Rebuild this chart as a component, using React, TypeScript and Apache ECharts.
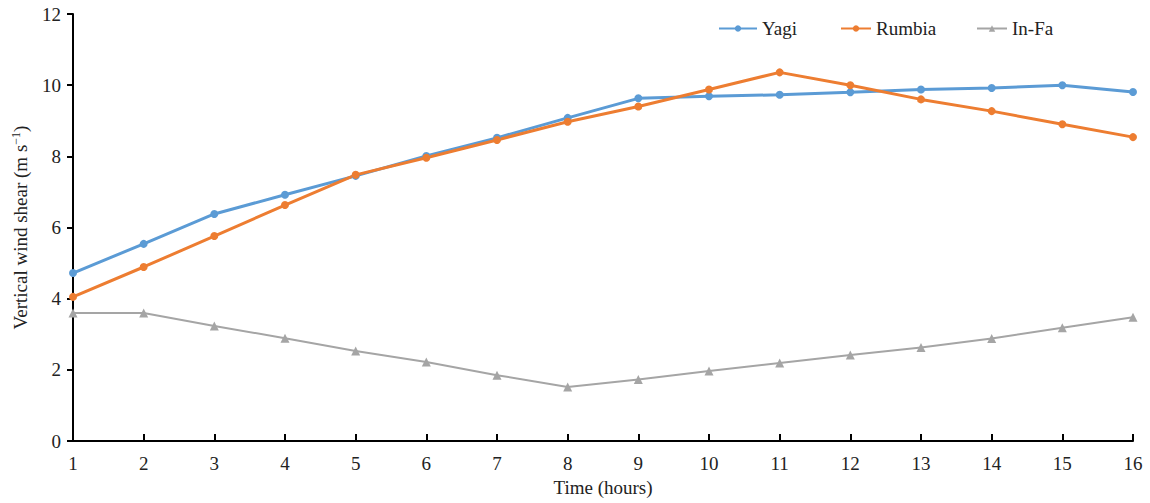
import React, { useEffect, useRef } from "react";
import * as echarts from "echarts";

const hours = [1, 2, 3, 4, 5, 6, 7, 8, 9, 10, 11, 12, 13, 14, 15, 16];
const yagi = [4.72, 5.54, 6.38, 6.92, 7.45, 8.01, 8.52, 9.08, 9.63, 9.69, 9.73, 9.8, 9.88, 9.92, 10.0, 9.81];
const rumbia = [4.05, 4.89, 5.76, 6.63, 7.48, 7.96, 8.46, 8.97, 9.4, 9.88, 10.36, 10.0, 9.6, 9.27, 8.9, 8.54];
const infa = [3.6, 3.6, 3.23, 2.89, 2.53, 2.22, 1.85, 1.52, 1.73, 1.97, 2.19, 2.42, 2.63, 2.88, 3.18, 3.48];

const FONT = "'Liberation Serif', 'Times New Roman', serif";
const TXT = "#222";

export default function App() {
  const ref = useRef<HTMLDivElement>(null);
  useEffect(() => {
    if (!ref.current) return;
    const chart = echarts.init(ref.current, undefined, { renderer: "svg" });
    const pairs = (arr: number[]) => hours.map((h, i) => [h, arr[i]]);
    const legendText = { fontFamily: FONT, fontSize: 19, color: TXT };
    chart.setOption({
      animation: false,
      textStyle: { fontFamily: FONT },
      grid: { left: 73, right: 17, top: 14, bottom: 62 },
      legend: [
        { left: 713, top: 14, itemWidth: 38, itemHeight: 8, textStyle: legendText, data: ["Yagi"] },
        { left: 835, top: 14, itemWidth: 30, itemHeight: 8, textStyle: legendText, data: ["Rumbia"] },
        { left: 971, top: 14, itemWidth: 30, itemHeight: 8, textStyle: legendText, data: ["In-Fa"] },
      ],
      xAxis: {
        type: "value",
        min: 1,
        max: 16,
        interval: 1,
        name: "Time (hours)",
        nameLocation: "middle",
        nameGap: 37,
        nameTextStyle: { fontFamily: FONT, fontSize: 19, color: TXT },
        axisLine: { lineStyle: { color: "#000", width: 2 } },
        axisTick: { inside: true, length: 7, lineStyle: { color: "#000", width: 2 } },
        axisLabel: { fontFamily: FONT, fontSize: 19, color: TXT, margin: 13 },
        splitLine: { show: false },
      },
      yAxis: {
        type: "value",
        min: 0,
        max: 12,
        interval: 2,
        name: "Vertical wind shear (m s{sup|−1})",
        nameLocation: "middle",
        nameGap: 42,
        nameTextStyle: {
          fontFamily: FONT,
          fontSize: 19,
          color: TXT,
          rich: { sup: { fontFamily: FONT, fontSize: 12, color: TXT, verticalAlign: "top", padding: [0, 0, 9, 0] } },
        },
        axisLine: { show: true, lineStyle: { color: "#000", width: 2 } },
        axisTick: { show: true, length: 6, lineStyle: { color: "#000", width: 2 } },
        axisLabel: { fontFamily: FONT, fontSize: 19, color: TXT, margin: 12 },
        splitLine: { show: false },
      },
      series: [
        {
          name: "Yagi",
          type: "line",
          data: pairs(yagi),
          symbol: "circle",
          symbolSize: 8,
          lineStyle: { color: "#5B9BD5", width: 3 },
          itemStyle: { color: "#5B9BD5" },
        },
        {
          name: "Rumbia",
          type: "line",
          data: pairs(rumbia),
          symbol: "circle",
          symbolSize: 8,
          lineStyle: { color: "#ED7D31", width: 3 },
          itemStyle: { color: "#ED7D31" },
        },
        {
          name: "In-Fa",
          type: "line",
          data: pairs(infa),
          symbol: "triangle",
          symbolSize: 9,
          lineStyle: { color: "#A5A5A5", width: 2 },
          itemStyle: { color: "#A5A5A5" },
        },
      ],
    });
    return () => chart.dispose();
  }, []);
  return <div ref={ref} style={{ width: 1150, height: 503, position: "absolute", left: 0, top: 0 }} />;
}
